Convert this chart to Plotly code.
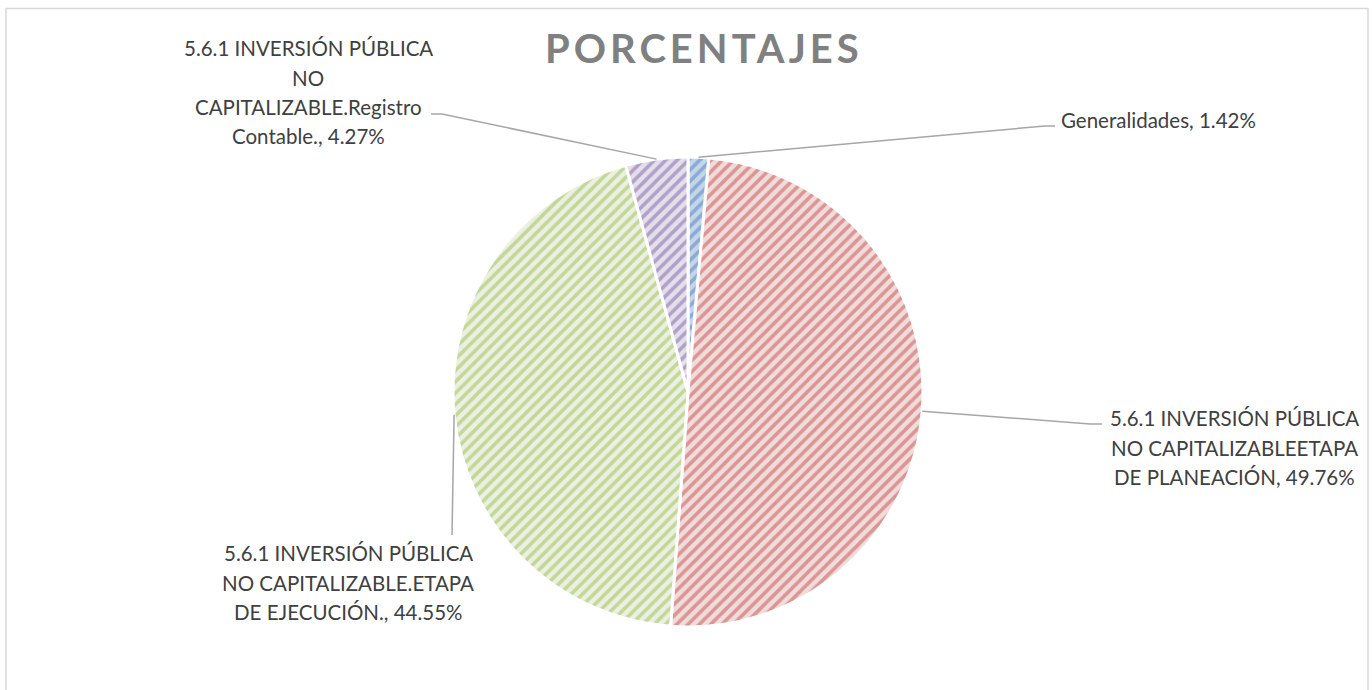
import math
import plotly.graph_objects as go

# ---- data ----
labels = [
    "Generalidades",
    "5.6.1 INVERSIÓN PÚBLICA NO CAPITALIZABLEETAPA DE PLANEACIÓN",
    "5.6.1 INVERSIÓN PÚBLICA NO CAPITALIZABLE.ETAPA DE EJECUCIÓN.",
    "5.6.1 INVERSIÓN PÚBLICA NO CAPITALIZABLE.Registro Contable.",
]
values = [1.42, 49.76, 44.55, 4.27]
label_lines = [
    ["Generalidades, 1.42%"],
    ["5.6.1 INVERSIÓN PÚBLICA", "NO CAPITALIZABLEETAPA", "DE PLANEACIÓN, 49.76%"],
    ["5.6.1 INVERSIÓN PÚBLICA", "NO CAPITALIZABLE.ETAPA", "DE EJECUCIÓN., 44.55%"],
    ["5.6.1 INVERSIÓN PÚBLICA", "NO", "CAPITALIZABLE.Registro", "Contable., 4.27%"],
]
title_text = "PORCENTAJES"

# ---- styles ----
fg_colors = ["#4F81BD", "#C0504D", "#9BBB59", "#8064A2"]
bg_colors = ["#C5D5EA", "#F2DCDB", "#EBF1DE", "#E4DFEC"]

W, H = 1372, 690
OFF = 0  # page body margin removed via post_script
CX, CY, R = 688, 392, 235  # pie center / radius in screen px

def px(x):
    return (x - OFF) / W

def py(y):
    return 1 - (y - OFF) / H

LINE_H = 29.5
# label block placement (screen px): x, y of first line center, anchor
label_pos = [
    (1059, 120, "left"),
    (1234, 418, "center"),
    (348, 553, "center"),
    (308, 48, "center"),
]
# leader line elbow points (screen px)
leader_ends = [
    [(1045, 126), (1055, 126)],
    [(1090, 424), (1102, 424)],
    [(452, 535)],
    [(442, 114), (431, 114)],
]

fig = go.Figure()
fig.add_trace(go.Pie(
    labels=labels,
    values=values,
    sort=False,
    direction="clockwise",
    rotation=0,
    textinfo="none",
    hoverinfo="label+percent",
    showlegend=False,
    marker=dict(
        colors=bg_colors,
        line=dict(color="white", width=3),
        pattern=dict(shape="/", fgcolor=fg_colors, bgcolor=bg_colors,
                     size=8, solidity=0.45, fillmode="overlay"),
    ),
    domain=dict(x=[px(CX - R), px(CX + R)], y=[py(CY + R), py(CY - R)]),
))

shapes = []
# chart border
shapes.append(dict(type="rect", xref="paper", yref="paper",
                   x0=px(6), x1=px(1368), y0=-0.1, y1=py(8.5),
                   line=dict(color="#D9D9D9", width=1.5), layer="below"))

# leader lines from slice mid-angle on the rim
total = sum(values)
cum = 0
for i, v in enumerate(values):
    mid = (cum + v / 2) / total * 2 * math.pi
    cum += v
    ax = CX + R * math.sin(mid)
    ay = CY - R * math.cos(mid)
    pts = [(ax, ay)] + leader_ends[i]
    path = "M " + " L ".join(f"{px(x):.5f},{py(y):.5f}" for x, y in pts)
    shapes.append(dict(type="path", xref="paper", yref="paper", path=path,
                       line=dict(color="#A6A6A6", width=1.5)))

annotations = []
for (x, y, xa), lines in zip(label_pos, label_lines):
    for k, t in enumerate(lines):
        annotations.append(dict(x=px(x), y=py(y + k * LINE_H), xref="paper", yref="paper",
                                text=t, showarrow=False, xanchor=xa, yanchor="middle",
                                font=dict(family="Lato", size=20.5, color="#404040")))
annotations.append(dict(x=px(704), y=py(48), xref="paper", yref="paper",
                        text=f'<span style="letter-spacing:4px">{title_text}</span>',
                        showarrow=False, xanchor="center", yanchor="middle",
                        font=dict(family="Lato", size=40, color="#808080", weight="bold")))

fig.update_layout(
    width=W, height=H,
    margin=dict(l=0, r=0, t=0, b=0),
    paper_bgcolor="white", plot_bgcolor="white",
    shapes=shapes, annotations=annotations,
)
fig.write_html("out.html",
               config={"displayModeBar": False},
               post_script="document.body.style.margin='0';document.body.style.overflow='hidden';")
